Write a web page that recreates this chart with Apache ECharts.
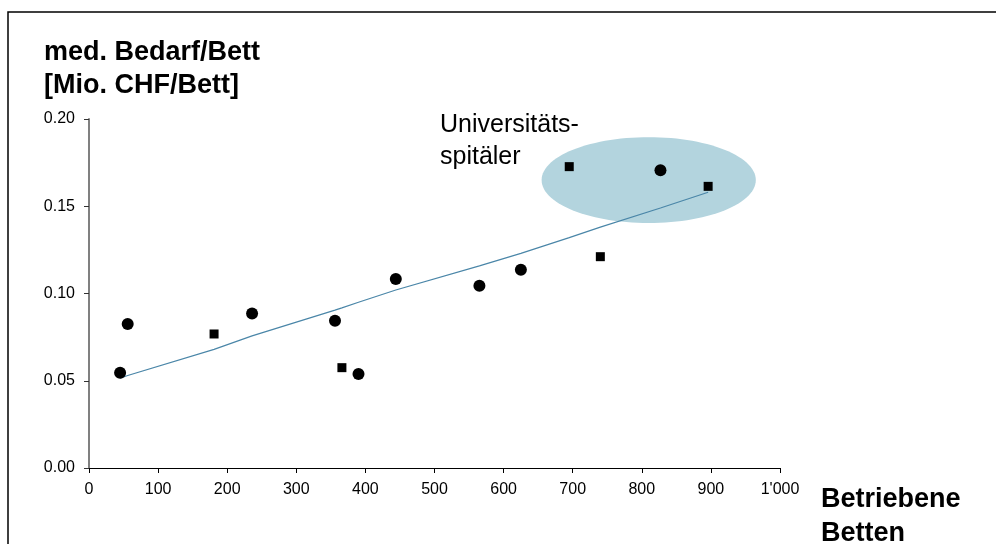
<!DOCTYPE html>
<html>
<head>
<meta charset="utf-8">
<script src="https://cdn.jsdelivr.net/npm/echarts@6/dist/echarts.min.js"></script>
<style>html,body{margin:0;padding:0;background:#fff;}#c{width:996px;height:544px;}</style>
</head>
<body>
<div id="c"></div>
<script>
// Data
var circleBeds = [45, 56, 236, 356, 390, 444, 565, 625, 827];
var circleCost = [0.0546, 0.0825, 0.0886, 0.0844, 0.0539, 0.1083, 0.1045, 0.1136, 0.1706];
var squareBeds = [181, 366, 695, 740, 896];
var squareCost = [0.0768, 0.0575, 0.1727, 0.1211, 0.1614];
var trendBeds = [45, 56, 181, 236, 356, 366, 390, 444, 565, 625, 695, 740, 827, 896];
var trendCost = [0.0514, 0.0530, 0.0680, 0.0757, 0.0905, 0.0918, 0.0950, 0.1020, 0.1158, 0.1230, 0.1320, 0.1380, 0.1490, 0.1580];
// Highlight region (Universitätsspitäler): center beds, center cost, half-width beds, half-height cost
var uniCenter = [810, 0.165];
var uniRadius = [155, 0.0246];
var yTitle = 'med. Bedarf/Bett\n[Mio. CHF/Bett]';
var xTitle = 'Betriebene\nBetten';
var noteText = 'Universitäts-\nspitäler';

function zip(a, b) { return a.map(function (v, i) { return [v, b[i]]; }); }

var chart = echarts.init(document.getElementById('c'));
var font = 'Liberation Sans, Arial, sans-serif';
chart.setOption({
  animation: false,
  backgroundColor: '#fff',
  grid: { left: 89, right: 216, top: 119, bottom: 76, containLabel: false },
  xAxis: {
    type: 'value', min: 0, max: 1000, interval: 100,
    axisLine: { show: true, onZero: false, lineStyle: { color: '#000', width: 1 } },
    axisTick: { show: true, length: 5, lineStyle: { color: '#000' } },
    splitLine: { show: false },
    axisLabel: { color: '#000', fontSize: 16, fontFamily: font, margin: 14,
      formatter: function (v) { return v >= 1000 ? (Math.floor(v / 1000) + "'" + String(v % 1000).padStart(3, '0')) : String(v); } }
  },
  yAxis: {
    type: 'value', min: 0, max: 0.2, interval: 0.05,
    axisLine: { show: true, onZero: false, lineStyle: { color: '#808080', width: 2 } },
    axisTick: { show: true, length: 5, lineStyle: { color: '#333' } },
    splitLine: { show: false },
    axisLabel: { color: '#000', fontSize: 16, fontFamily: font, margin: 14,
      formatter: function (v) { return v.toFixed(2); } }
  },
  graphic: [
    { type: 'polyline', silent: true, shape: { points: [[8, 544], [8, 12], [996, 12]] },
      style: { stroke: '#000', lineWidth: 1.5, fill: null } },
    { type: 'text', left: 44, top: 36, style: { text: yTitle, fontSize: 27, fontWeight: 'bold', fontFamily: font, fill: '#000', lineHeight: 33 } },
    { type: 'text', left: 821, top: 483, style: { text: xTitle, fontSize: 27, fontWeight: 'bold', fontFamily: font, fill: '#000', lineHeight: 34 } },
    { type: 'text', left: 440, top: 109, style: { text: noteText, fontSize: 25, fontFamily: font, fill: '#000', lineHeight: 32 } }
  ],
  series: [
    {
      type: 'custom', z: 1, silent: true,
      data: [[uniCenter[0], uniCenter[1], uniRadius[0], uniRadius[1]]],
      renderItem: function (params, api) {
        var cx = api.value(0), cy = api.value(1), rx = api.value(2), ry = api.value(3);
        var c = api.coord([cx, cy]);
        var e = api.coord([cx + rx, cy + ry]);
        var a = e[0] - c[0], b = c[1] - e[1];
        var pts = [];
        for (var i = 0; i < 120; i++) {
          var t = i / 120 * Math.PI * 2;
          pts.push([c[0] + a * Math.cos(t), c[1] + b * Math.sin(t)]);
        }
        return { type: 'polygon', shape: { points: pts }, style: { fill: '#b3d4de', stroke: null } };
      }
    },
    {
      type: 'line', z: 3, data: zip(trendBeds, trendCost), showSymbol: false, symbol: 'none',
      lineStyle: { color: '#4a86a8', width: 1.2 }, silent: true
    },
    {
      type: 'scatter', z: 4, data: zip(circleBeds, circleCost), symbol: 'circle', symbolSize: 12,
      itemStyle: { color: '#000', opacity: 1 }
    },
    {
      type: 'scatter', z: 4, data: zip(squareBeds, squareCost), symbol: 'rect', symbolSize: 9,
      itemStyle: { color: '#000', opacity: 1 }
    }
  ]
});
</script>
</body>
</html>
